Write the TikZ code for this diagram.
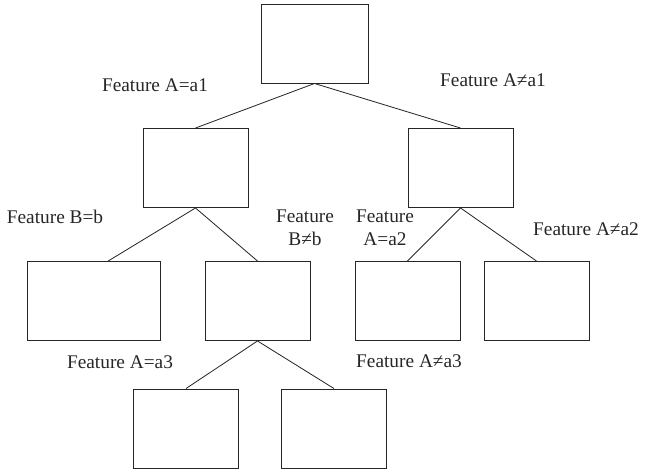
\documentclass[tikz,border=0pt]{standalone}
\usepackage{fontspec}
\setmainfont{Liberation Serif}
\usetikzlibrary{positioning}

\begin{document}
\begin{tikzpicture}[x=0.03cm,y=-0.03cm,
  font=\fontsize{16.5}{19.5}\selectfont,
  leaf/.style={draw=black!85,line width=0.8pt,minimum width=3.15cm,minimum height=2.37cm,inner sep=0pt},
  branch/.style={draw=black!85,line width=0.7pt},
  cond/.style={align=center,inner sep=0pt,text=black!85}]

\useasboundingbox (0,0) rectangle (649,471);

% Boxes of the tree
\node[leaf,minimum width=3.21cm] (root) at (314.5,43.5) {};
\node[leaf] (l) at (195.5,168) {};
\node[leaf] (r) at (460.5,168) {};
\node[leaf,minimum width=3.99cm] (ll) at (93.5,301) {};
\node[leaf] (lr) at (257.5,301) {};
\node[leaf] (rl) at (407.5,301) {};
\node[leaf] (rr) at (536.5,301) {};
\node[leaf] (lrl) at (186,428.5) {};
\node[leaf] (lrr) at (334,428.5) {};

% Branches
\draw[branch] (root.south) -- (l.north);
\draw[branch] (root.south) -- (r.north);
\draw[branch] (l.south) -- ([xshift=0.44cm]ll.north);
\draw[branch] (l.south) -- (lr.north);
\draw[branch] (r.south) -- (rl.north);
\draw[branch] (r.south) -- (rr.north);
\draw[branch] (lr.south) -- (lrl.north);
\draw[branch] (lr.south) -- (lrr.north);

% Split conditions
\node[cond] (c1) at (155,85) {Feature A=a1};
\node[cond] (c2) at (493,80) {Feature A≠a1};
\node[cond] (c3) at (55,217) {Feature B=b};
\node[cond] (c4) at (305,228) {Feature\\B≠b};
\node[cond] (c5) at (385,228) {Feature\\A=a2};
\node[cond] (c6) at (586,229) {Feature A≠a2};
\node[cond] (c7) at (120,362) {Feature A=a3};
\node[cond] (c8) at (409,361) {Feature A≠a3};

\end{tikzpicture}
\end{document}
